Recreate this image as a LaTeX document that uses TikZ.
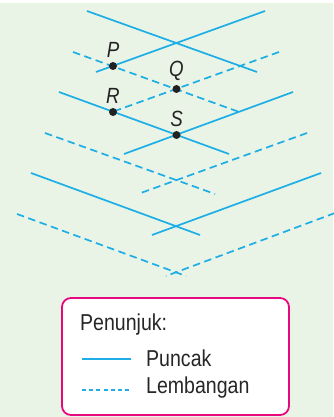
\documentclass[tikz,border=0pt]{standalone}
\usepackage{fontspec}
\setmainfont{Liberation Sans}[FakeStretch=0.85]
\usepackage{xcolor}
\usetikzlibrary{positioning}

\definecolor{wavecyan}{HTML}{1DAEE6}
\definecolor{paper}{HTML}{E9F4E7}
\definecolor{keypink}{HTML}{E6087F}
\definecolor{dotink}{HTML}{222222}

\begin{document}
\begin{tikzpicture}[
    x=1pt, y=-1pt,
    crest_line/.style={draw=wavecyan, line width=1.7pt},
    trough_line/.style={draw=wavecyan, line width=1.7pt, dash pattern=on 7.5pt off 4.5pt},
    pt_dot/.style={circle, fill=dotink, inner sep=0pt, minimum size=8pt},
    pt_label/.style={font=\fontsize{22}{22}\selectfont\itshape, text=dotink, inner sep=1pt},
    key_box/.style={draw=keypink, line width=1.8pt, fill=white, rounded corners=9pt},
    key_text/.style={font=\fontsize{23}{26}\selectfont, text=black!85, anchor=west, inner sep=0pt}
]
    % =========================================================================
    % BACKGROUND
    % =========================================================================
    \useasboundingbox (0,0) rectangle (333,417);
    \fill [paper] (0,3) rectangle (333,417);

    % =========================================================================
    % WAVEFRONTS (PUNCAK / LEMBANGAN)
    % =========================================================================
    \coordinate (a1) at (87,11);   \coordinate (a2) at (257,72);
    \coordinate (b1) at (265,11);  \coordinate (b2) at (96,72);
    \coordinate (c1) at (73,52);   \coordinate (c2) at (242,113);
    \coordinate (d1) at (279,52);  \coordinate (d2) at (112,112);
    \coordinate (e1) at (59,92);   \coordinate (e2) at (229,154);
    \coordinate (f1) at (293,92);  \coordinate (f2) at (124,154);
    \coordinate (g1) at (45,133);  \coordinate (g2) at (215,194);
    \coordinate (h1) at (307,133); \coordinate (h2) at (138,194);
    \coordinate (i1) at (31,173);  \coordinate (i2) at (200,235);
    \coordinate (j1) at (321,173); \coordinate (j2) at (152,235);
    \coordinate (k1) at (17,214);  \coordinate (k2) at (186,276);
    \coordinate (l1) at (335,213); \coordinate (l2) at (166,276);

    \draw [crest_line] (a1) -- (a2);
    \draw [crest_line] (b1) -- (b2);
    \draw [trough_line] (c1) -- (c2);
    \draw [trough_line] (d1) -- (d2);
    \draw [crest_line] (e1) -- (e2);
    \draw [crest_line] (f1) -- (f2);
    \draw [trough_line] (g1) -- (g2);
    \draw [trough_line] (h1) -- (h2);
    \draw [crest_line] (i1) -- (i2);
    \draw [crest_line] (j1) -- (j2);
    \draw [trough_line] (k1) -- (k2);
    \draw [trough_line] (l1) -- (l2);

    % =========================================================================
    % POINTS P, Q, R, S
    % =========================================================================
    \node [pt_dot] (P) at (113,66) {};
    \node [pt_dot] (Q) at (176.5,89) {};
    \node [pt_dot] (R) at (113,112) {};
    \node [pt_dot] (S) at (176.5,135) {};

    \node [pt_label, above=3pt of P] (Plab) {P};
    \node [pt_label, above=3pt of Q] (Qlab) {Q};
    \node [pt_label, above=3pt of R] (Rlab) {R};
    \node [pt_label, above=3pt of S] (Slab) {S};

    % =========================================================================
    % KEY
    % =========================================================================
    \draw [key_box] (62,298) rectangle (289,415);
    \node [key_text] (keytitle) at (80,325) {Penunjuk:};

    \coordinate (solidA) at (82,359);  \coordinate (solidB) at (131,359);
    \coordinate (dashA) at (82,390);   \coordinate (dashB) at (131,390);
    \draw [draw=wavecyan, line width=1.6pt] (solidA) -- (solidB);
    \draw [draw=wavecyan, line width=1.6pt, dash pattern=on 4pt off 3.2pt] (dashA) -- (dashB);

    \node [key_text] (keycrest) at (146,358) {Puncak};
    \node [key_text] (keytrough) at (146,388) {Lembangan};
\end{tikzpicture}
\end{document}
